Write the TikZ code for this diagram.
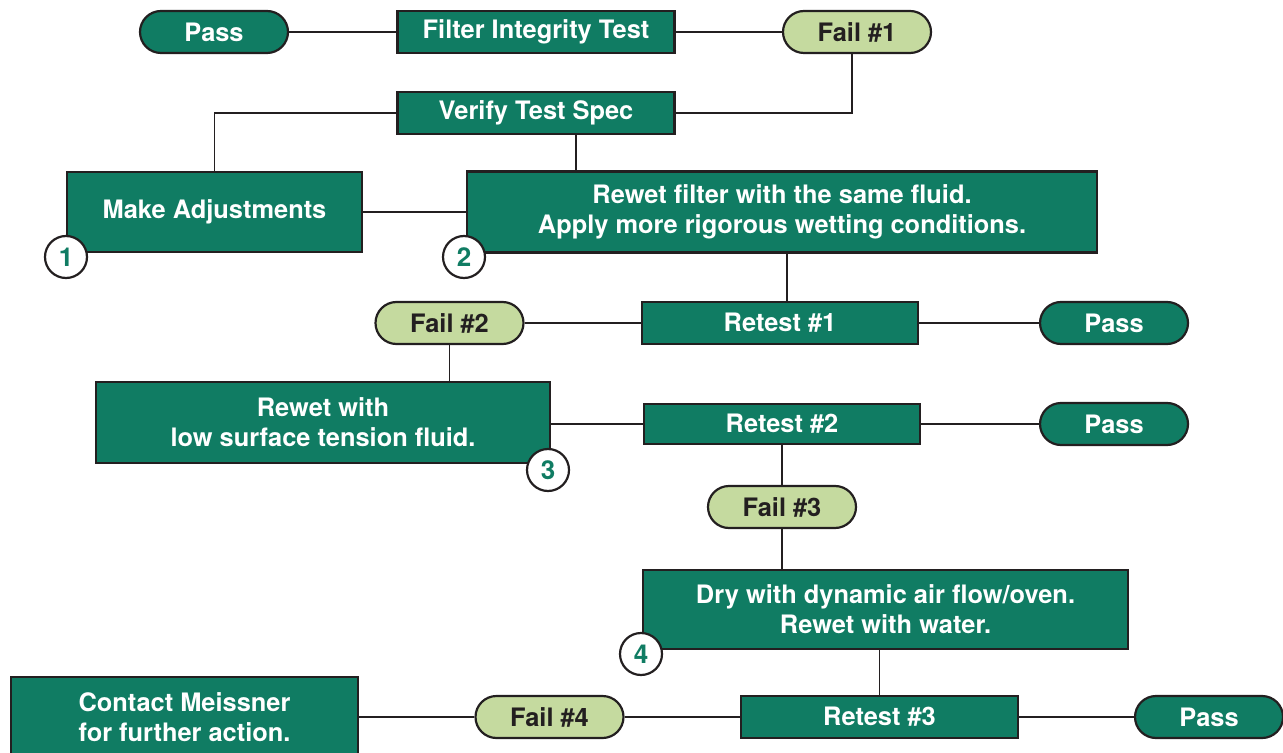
\documentclass[tikz,border=0pt]{standalone}
\usepackage{fontspec}
\setmainfont{TeX Gyre Heros}
\usepackage{tikz}
\usetikzlibrary{graphs, positioning}
\definecolor{meigreen}{RGB}{16,124,99}
\definecolor{faillight}{RGB}{197,218,159}
\definecolor{inkline}{RGB}{35,31,32}

\begin{document}
\begin{tikzpicture}[x=0.5pt, y=-0.5pt, line width=0.95pt, color=inkline,
		box/.style={draw=inkline, line width=1.1pt, fill=meigreen, text=white, align=center, inner sep=0pt, font=\fontsize{12.7}{15}\selectfont\bfseries},
		passpill/.style={box, rounded corners=10.5pt, minimum width=74pt, minimum height=21pt},
		failpill/.style={passpill, fill=faillight, text=inkline},
		numcircle/.style={draw=inkline, line width=1.1pt, circle, fill=white, text=meigreen, minimum size=21pt, inner sep=0pt, font=\fontsize{13}{13}\selectfont\bfseries}]
		\useasboundingbox (0,0) rectangle (1283,753);
		
		\node[passpill]                                           (passA)   at (214,32)      {Pass};
		\node[box, minimum width=138.5pt, minimum height=21pt]    (fit)     at (536,32)      {Filter Integrity Test};
		\node[failpill]                                           (failA)   at (857,32)      {Fail \#1};
		\node[box, minimum width=138.5pt, minimum height=21pt]    (verify)  at (536,113)     {Verify Test Spec};
		\node[box, minimum width=147.5pt, minimum height=40pt]    (adjust)  at (214.5,212)   {Make Adjustments};
		\node[box, minimum width=315pt, minimum height=40.5pt]    (rewetA)  at (782,212)     {Rewet filter with the same fluid.\\Apply more rigorous wetting conditions.};
		\node[box, minimum width=138pt, minimum height=21pt]      (retestA) at (780,323)     {Retest \#1};
		\node[failpill]                                           (failB)   at (449.5,323)   {Fail \#2};
		\node[passpill]                                           (passB)   at (1114,323)    {Pass};
		\node[box, minimum width=227pt, minimum height=40.5pt]    (rewetB)  at (323,422.5)   {Rewet with\\low surface tension fluid.};
		\node[box, minimum width=138pt, minimum height=20pt]      (retestB) at (782,424)     {Retest \#2};
		\node[passpill]                                           (passC)   at (1114,424)    {Pass};
		\node[failpill]                                           (failC)   at (782,507)     {Fail \#3};
		\node[box, minimum width=242.5pt, minimum height=39.5pt]  (dry)     at (885.5,609.5) {Dry with dynamic air flow/oven.\\Rewet with water.};
		\node[box, minimum width=138.5pt, minimum height=21pt]    (retestC) at (879.5,717)   {Retest \#3};
		\node[passpill]                                           (passD)   at (1209,717)    {Pass};
		\node[failpill]                                           (failD)   at (549.5,717)   {Fail \#4};
		\node[box, minimum width=173.5pt, minimum height=40pt]    (contact) at (184.5,717)   {Contact Meissner\\for further action.};
		
		\graph[edges={line width=0.95pt, draw=inkline}]{
			(passA) -- (fit) -- (failA);
			(adjust) -- (rewetA);
			(failB) -- (retestA) -- (passB);
			(retestB) -- (passC);
			(retestB) -- (failC);
			(contact) -- (failD) -- (retestC) -- (passD);
		};
		\draw ([xshift=-2.5pt]failA.south) |- (verify.east);
		\draw (verify.west) -| (adjust.north);
		\draw ([xshift=20pt]verify.south) -- ([xshift=20pt]verify.south |- rewetA.north);
		\draw ([xshift=2.5pt]rewetA.south) -- ([xshift=2.5pt]rewetA.south |- retestA.north);
		\draw (failB.south) -- (failB.south |- rewetB.north);
		\draw (rewetB.east |- retestB.west) -- (retestB.west);
		\draw (failC.south) -- (failC.south |- dry.north);
		\draw (retestC.north) -- (retestC.north |- dry.south);
		
		\node[numcircle] (n1) at (66,257)  {1};
		\node[numcircle] (n2) at (464,257) {2};
		\node[numcircle] (n3) at (548,470) {3};
		\node[numcircle] (n4) at (641,654) {4};
	\end{tikzpicture}
\end{document}
